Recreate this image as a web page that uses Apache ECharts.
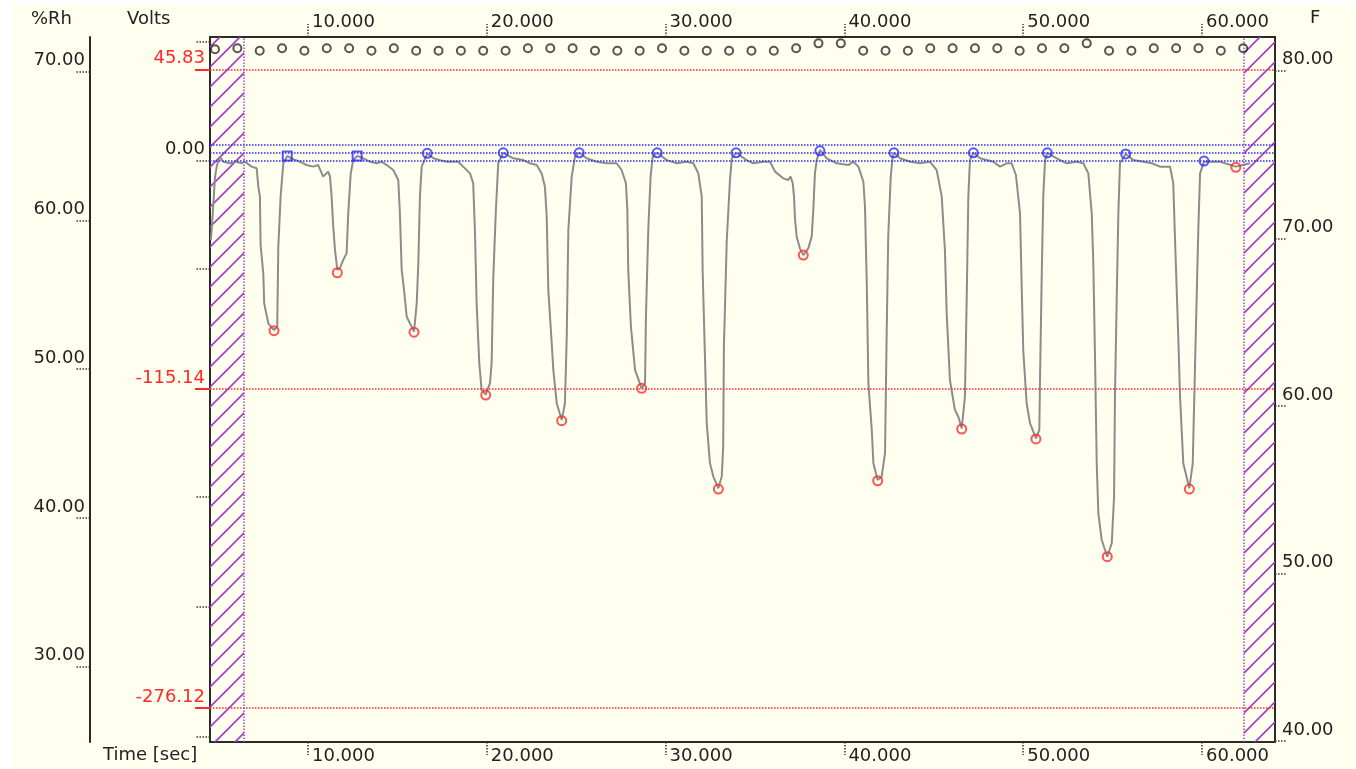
<!DOCTYPE html>
<html><head><meta charset="utf-8">
<script src="https://cdn.jsdelivr.net/npm/echarts@6/dist/echarts.min.js"></script>
<style>
html,body{margin:0;padding:0;background:#ffffff;width:1356px;height:769px;overflow:hidden}
#c{position:absolute;left:12px;top:5px;width:1344px;height:764px;background:#FFFFF0}
</style>
</head><body><div id="c"></div>
<script>
// ---- data ----
const traceTime = [4.57,4.68,4.80,4.91,5.08,5.26,5.63,6.01,6.29,6.47,6.85,7.13,7.22,7.31,7.35,7.50,7.55,7.78,8.10,8.28,8.34,8.47,8.62,8.84,
9.17,9.55,9.92,10.29,10.57,10.85,11.13,11.23,11.32,11.41,11.51,11.64,11.79,11.97,12.16,12.25,12.39,12.53,12.75,
13.09,13.46,13.84,14.12,14.40,14.77,15.05,15.14,15.24,15.37,15.52,15.93,16.08,16.17,16.26,16.36,16.67,
17.01,17.38,17.75,18.12,18.40,18.68,19.06,19.24,19.34,19.43,19.58,19.71,19.94,20.18,20.27,20.36,20.50,20.64,20.92,21.48,22.04,
22.41,22.79,23.07,23.25,23.35,23.44,23.63,23.72,23.91,24.19,24.37,24.47,24.56,24.75,24.93,25.17,
25.58,26.14,26.70,27.26,27.54,27.78,27.86,27.91,28.06,28.29,28.66,28.85,28.90,29.03,29.16,29.28,29.53,
30.06,30.62,31.18,31.55,31.83,32.02,32.07,32.20,32.30,32.48,32.67,32.95,33.14,33.22,33.26,33.42,33.60,33.70,33.94,
34.53,34.90,35.46,35.84,36.12,36.58,36.86,36.99,37.11,37.18,37.24,37.33,37.51,37.70,37.98,38.17,38.26,38.35,38.45,38.63,39.01,39.57,40.22,
40.50,40.78,41.06,41.15,41.25,41.34,41.53,41.62,41.86,42.08,42.27,42.36,42.45,42.59,42.70,42.77,
43.11,43.67,44.22,44.78,45.16,45.44,45.62,45.72,45.90,46.18,46.37,46.56,46.74,46.84,46.93,47.02,47.21,
47.58,48.33,48.70,49.07,49.35,49.59,49.82,49.91,50.00,50.19,50.38,50.71,50.90,50.94,51.03,51.12,51.22,51.35,
51.87,52.43,52.99,53.36,53.64,53.83,53.92,54.02,54.11,54.20,54.39,54.70,54.95,55.08,55.13,55.23,55.32,55.41,55.73,
56.16,56.71,57.19,57.65,58.21,58.39,58.49,58.67,58.77,58.95,59.29,59.48,59.61,59.79,59.89,60.11,61.01,61.89,62.69];
const traceVolts = [-40,-26,-8.2,-2.2,2.0,-0.5,-1.3,-0.5,-1.3,-0.5,-3.0,-3.8,-13.0,-18,-42.5,-56.8,-71.9,-82,-85.4,-83.7,-43.4,-18,-1.3,2.4,
0.7,-0.5,-2.2,-3.0,-2.2,-8.0,-5.5,-8.0,-18,-33,-45,-55,-54,-50,-46.7,-26.5,-6.4,0.3,2.4,
1.2,-0.5,-1.3,-0.5,-2.2,-4.7,-9.7,-26.5,-55,-65,-78.7,-86.2,-72,-51.7,-18,-3,3.7,
1.2,0.3,-0.5,-0.5,-0.5,-3,-6.4,-11.4,-36.6,-71.9,-102.2,-115.6,-118,-112,-102,-60,-26.5,-1.3,4.0,1.2,0.3,
-1.3,-2.2,-6.4,-13.1,-28.2,-65.2,-92,-105.5,-122.3,-130.8,-122.3,-88.8,-35,-8,2,4.0,
1.2,-0.5,-1.3,-1.3,-4.7,-11.4,-24.9,-55,-83.7,-105.5,-114.8,-112.3,-78.7,-35,-8,2,4,
0.3,-1.3,-0.5,-1.3,-6.4,-18,-55,-98.8,-132.4,-152.6,-159.3,-165.2,-159.3,-144.2,-93.8,-40,-9.7,1.2,4,
0.3,-1.3,-0.5,-0.5,-5.5,-8.9,-9.7,-8,-11.4,-18,-29.9,-38.3,-44.2,-47.6,-44.2,-38.3,-24.9,-6.4,0.3,5.4,1.2,-1.3,-2.2,
-0.5,-3,-10.6,-23.2,-61.8,-112.3,-135.8,-152.6,-161,-159.3,-147.6,-88.8,-38.3,-8,2,4,
1.2,-0.5,-1.3,-0.5,-4.7,-18,-45,-77,-110.6,-125.7,-129.1,-135,-119,-68.6,-18,0.3,4,
1.2,-0.5,-3,-1.3,-1.3,-7.2,-26.5,-61.8,-95.5,-122.3,-132.4,-140,-135.8,-108.9,-60.2,-18,0.3,4,
1.2,-1.3,-0.5,-1.3,-6.4,-26.5,-51.7,-102.2,-152.6,-177.8,-191.3,-199.7,-192.9,-169.4,-119,-68.6,-26.5,-1.3,3.4,
0.3,-0.5,-1.3,-3,-3,-11.4,-40,-88.8,-119,-152.6,-165.2,-152.6,-102.2,-35,-6.4,-0.5,-0.5,-3,-1.3];

const minTime  = [8.10,11.64,15.93,19.94,24.19,28.66,32.95,37.70,41.86,46.56,50.71,54.70,59.29,61.89];
const minVolts = [-85.7,-56.5,-86.5,-118.2,-131.1,-114.8,-165.6,-47.6,-161.4,-135.3,-140.3,-199.7,-165.6,-3.3];

const maxTime  = [8.84,12.75,16.67,20.92,25.17,29.53,33.94,38.63,42.77,47.21,51.35,55.73,60.11];
const maxVolts = [2.4,2.4,3.7,4.0,4.0,4.0,4.0,5.0,4.0,4.0,4.0,3.4,-0.2];

const tempTime = [4.80,6.05,7.30,8.55,9.80,11.05,12.30,13.55,14.80,16.05,17.30,18.55,19.80,21.05,22.30,23.55,
24.80,26.05,27.30,28.55,29.80,31.05,32.30,33.55,34.80,36.05,37.30,38.55,39.80,41.05,42.30,43.55,
44.80,46.05,47.30,48.55,49.80,51.05,52.30,53.55,54.80,56.05,57.30,58.55,59.80,61.05,62.30];
const tempF = [81.28,81.34,81.19,81.34,81.19,81.34,81.34,81.19,81.34,81.19,81.19,81.19,81.19,81.19,81.34,81.34,
81.34,81.19,81.19,81.19,81.34,81.19,81.19,81.19,81.19,81.19,81.34,81.63,81.63,81.19,81.19,81.19,
81.34,81.34,81.34,81.34,81.19,81.34,81.34,81.63,81.19,81.19,81.34,81.34,81.34,81.19,81.34];

const xTicks = [10,20,30,40,50,60];
const rhTicks = [30,40,50,60,70];
const fTicks = [40,50,60,70,80];
const voltZeroLabel = [0];
const voltBlackTicks = [59.86,0,-54.26,-169.4,-224.9,-290.6];
const voltRefLines = [45.83,-115.14,-276.12];
const voltBlueLines = [8.27,4.08,0];
const hatchLeft = [4.52,6.42];
const hatchRight = [62.35,64.08];

// ---- styling ----
const FONT = 'DejaVu Sans';
const TXT = '#222222';
const AX = '#2a2a2a';
const RED = '#ff2a2a';
const BLUE = '#2a2aff';
const MAG = '#b040c8';

function hatchCanvas(){
  const c = document.createElement('canvas');
  c.width = 20; c.height = 20;
  const g = c.getContext('2d');
  g.strokeStyle = '#a63cc6';
  g.lineWidth = 1.6;
  g.beginPath();
  g.moveTo(-2,22); g.lineTo(22,-2);
  g.moveTo(-2,2); g.lineTo(2,-2);
  g.moveTo(18,22); g.lineTo(22,18);
  g.stroke();
  return c;
}
const hatchPattern = {image: hatchCanvas(), repeat: 'repeat'};

const zip = (a,b) => a.map((v,i)=>[v,b[i]]);

const xAxisBase = (pos, margin, va) => ({
  type:'value', position:pos, min:4.52, max:64.08,
  axisLine:{show:true, onZero:false, lineStyle:{color:AX, width:2}},
  axisTick:{show:true, customValues:xTicks, length:13, inside:false, lineStyle:{color:'#333', type:'dotted', width:1.5}},
  axisLabel:{show:true, customValues:xTicks, formatter:v=>v.toFixed(3), color:TXT, fontFamily:FONT, fontSize:18,
    align:'left', padding:[0,0,0,4], margin:margin, verticalAlign:va},
  splitLine:{show:false}
});

const yLabel = (vals, color, margin, fmt) => ({
  show:true, customValues:vals, formatter:fmt || (v=>v.toFixed(2)), color:color, fontFamily:FONT, fontSize:18,
  margin:margin, verticalAlign:'bottom', lineHeight:22
});

const chart = echarts.init(document.getElementById('c'), null, {renderer:'canvas'});
chart.setOption({
  animation:false,
  backgroundColor:'#FFFFF0',
  grid:{left:198, top:32, right:81, bottom:27, containLabel:false},
  xAxis:[ xAxisBase('bottom',5,'top'), xAxisBase('top',6,'bottom') ],
  yAxis:[
    { // %Rh
      type:'value', position:'left', offset:120, min:24.94, max:72.33,
      axisLine:{show:true, lineStyle:{color:AX, width:2}},
      axisTick:{show:true, customValues:rhTicks, length:14, lineStyle:{color:'#333', type:'dotted', width:1.5}},
      axisLabel:yLabel(rhTicks, TXT, 5),
      splitLine:{show:false}
    },
    { // Volts (black ticks)
      type:'value', position:'left', offset:0, min:-293.14, max:62.38,
      axisLine:{show:true, lineStyle:{color:AX, width:2}},
      axisTick:{show:true, customValues:voltBlackTicks, length:15, lineStyle:{color:'#333', type:'dotted', width:1.5}},
      axisLabel:yLabel(voltZeroLabel, TXT, 5),
      splitLine:{show:false}
    },
    { // Volts (red reference labels)
      type:'value', position:'left', offset:0, min:-293.14, max:62.38,
      axisLine:{show:false},
      axisTick:{show:true, customValues:voltRefLines, length:15, lineStyle:{color:RED, type:'solid', width:2}},
      axisLabel:yLabel(voltRefLines, RED, 5),
      splitLine:{show:false}
    },
    { // F
      type:'value', position:'right', offset:0, min:39.95, max:82.01,
      axisLine:{show:true, lineStyle:{color:AX, width:2}},
      axisTick:{show:true, customValues:fTicks, length:12, lineStyle:{color:'#333', type:'dotted', width:1.5}},
      axisLabel:yLabel(fTicks, TXT, 7),
      splitLine:{show:false}
    }
  ],
  graphic:[
    {type:'text', x:19, y:14, style:{text:'%Rh', fill:TXT, font:'18px "DejaVu Sans"', verticalAlign:'middle'}},
    {type:'text', x:115, y:14, style:{text:'Volts', fill:TXT, font:'18px "DejaVu Sans"', verticalAlign:'middle'}},
    {type:'text', x:1298, y:13, style:{text:'F', fill:TXT, font:'18px "DejaVu Sans"', verticalAlign:'middle'}},
    {type:'text', x:91, y:750, style:{text:'Time [sec]', fill:TXT, font:'18px "DejaVu Sans"', verticalAlign:'middle'}}
  ],
  series:[
    {
      type:'line', xAxisIndex:0, yAxisIndex:1, data:zip(traceTime, traceVolts),
      showSymbol:false, symbol:'none', lineStyle:{color:'#8c8c8c', width:2}, z:3,
      markArea:{
        silent:true,
        itemStyle:{color:hatchPattern, borderWidth:0},
        data:[ [{xAxis:hatchLeft[0]},{xAxis:hatchLeft[1]}], [{xAxis:hatchRight[0]},{xAxis:hatchRight[1]}] ]
      },
      markLine:{
        silent:true, symbol:'none', label:{show:false},
        data: voltRefLines.map(v=>({yAxis:v, lineStyle:{color:RED, type:'dotted', width:1.5}}))
          .concat(voltBlueLines.map(v=>({yAxis:v, lineStyle:{color:BLUE, type:'dotted', width:1.5}})))
          .concat([hatchLeft[1], hatchRight[0]].map(v=>({xAxis:v, lineStyle:{color:MAG, type:'dotted', width:1.5}})))
      }
    },
    {
      type:'scatter', xAxisIndex:0, yAxisIndex:1, data:zip(minTime, minVolts),
      symbol:'circle', symbolSize:9, z:5,
      itemStyle:{color:'rgba(0,0,0,0)', borderColor:RED, borderWidth:2}
    },
    {
      type:'scatter', xAxisIndex:0, yAxisIndex:1, data:zip(maxTime, maxVolts),
      symbol:(val, p)=> p.dataIndex < 2 ? 'rect' : 'circle', symbolSize:9, z:5,
      itemStyle:{color:'rgba(0,0,0,0)', borderColor:BLUE, borderWidth:2}
    },
    {
      type:'scatter', xAxisIndex:0, yAxisIndex:3, data:zip(tempTime, tempF),
      symbol:'circle', symbolSize:8, z:5,
      itemStyle:{color:'rgba(0,0,0,0)', borderColor:'#2a2a2a', borderWidth:2}
    }
  ]
});
</script>
</body></html>
